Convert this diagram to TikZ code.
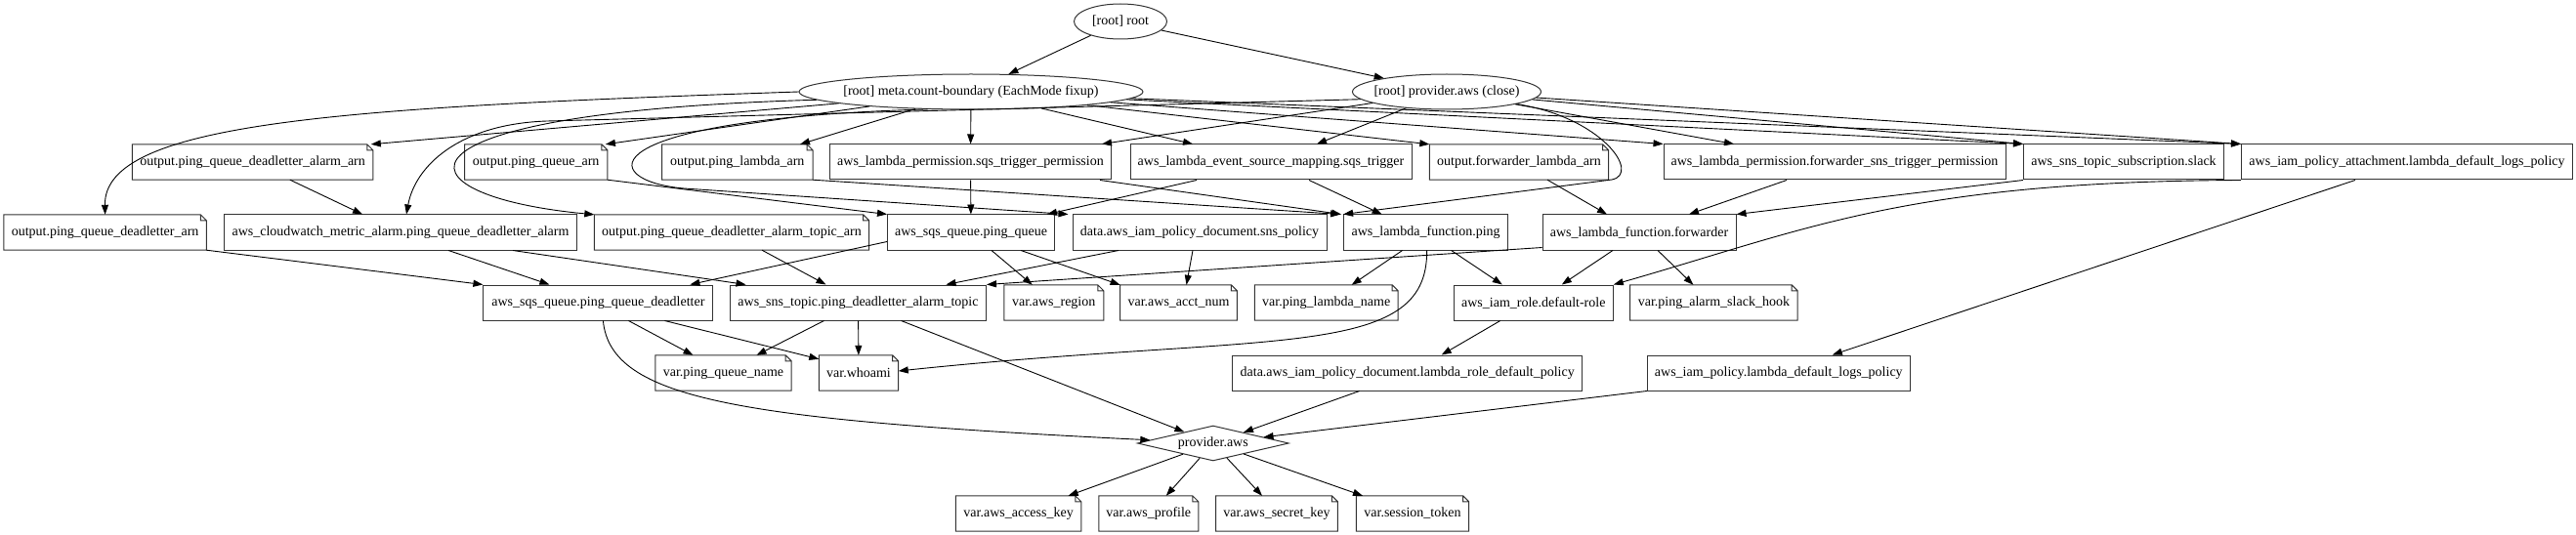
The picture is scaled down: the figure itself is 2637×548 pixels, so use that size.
\documentclass[tikz,border=0pt]{standalone}
\usepackage{fontspec}
\setmainfont{Liberation Serif}
\usetikzlibrary{arrows.meta,shapes.geometric}

\begin{document}
\begin{tikzpicture}[x=1pt, y=1pt, font=\fontsize{14}{16}\selectfont,
  box/.style={draw=black!80, line width=1pt, minimum height=36pt, inner sep=0pt},
  note/.style={minimum height=36pt, inner sep=0pt},
  fold/.style={draw=black!80, line width=1pt},
  ell/.style={ellipse, draw=black!80, line width=1pt, minimum height=36pt, inner sep=0pt},
  dia/.style={diamond, draw=black!80, line width=1pt, aspect=4.3, minimum width=155pt, minimum height=36pt, inner sep=0pt},
  arr/.style={-{Triangle[length=10pt,width=7pt]}, line width=0.9pt}]
\useasboundingbox (0,0) rectangle (2637,-548);
\node[ell, minimum width=95pt] (root) at (1147,-22) {\makebox[0pt]{[root] root}};
\node[ell, minimum width=352pt] (meta) at (994,-94) {\makebox[0pt]{[root] meta.count-boundary (EachMode fixup)}};
\node[ell, minimum width=193pt] (close) at (1481,-94) {\makebox[0pt]{[root] provider.aws (close)}};
\node[note, minimum width=246pt] (oqdaa) at (258.6,-166) {output.ping\_queue\_deadletter\_alarm\_arn};
\node[note, minimum width=146pt] (oqa) at (548.7,-166) {output.ping\_queue\_arn};
\node[note, minimum width=154pt] (ola) at (754.8,-166) {output.ping\_lambda\_arn};
\node[box, minimum width=288pt] (psqs) at (993.5,-166) {aws\_lambda\_permission.sqs\_trigger\_permission};
\node[box, minimum width=288pt] (esm) at (1301,-166) {aws\_lambda\_event\_source\_mapping.sqs\_trigger};
\node[note, minimum width=183pt] (ofla) at (1555,-166) {output.forwarder\_lambda\_arn};
\node[box, minimum width=350pt] (pfwd) at (1878,-166) {aws\_lambda\_permission.forwarder\_sns\_trigger\_permission};
\node[box, minimum width=205pt] (slack) at (2174,-166) {aws\_sns\_topic\_subscription.slack};
\node[box, minimum width=339pt] (attach) at (2464,-166) {aws\_iam\_policy\_attachment.lambda\_default\_logs\_policy};
\node[note, minimum width=207pt] (oqda) at (107.6,-238) {output.ping\_queue\_deadletter\_arn};
\node[box, minimum width=361pt] (alarm) at (410,-238) {aws\_cloudwatch\_metric\_alarm.ping\_queue\_deadletter\_alarm};
\node[note, minimum width=281pt] (oqdata) at (749,-238) {output.ping\_queue\_deadletter\_alarm\_topic\_arn};
\node[box, minimum width=171pt] (queue) at (994,-238) {aws\_sqs\_queue.ping\_queue};
\node[box, minimum width=260pt] (snspol) at (1228,-238) {data.aws\_iam\_policy\_document.sns\_policy};
\node[box, minimum width=168pt] (ping) at (1459.6,-238) {aws\_lambda\_function.ping};
\node[box, minimum width=198pt] (fwd) at (1678,-238) {aws\_lambda\_function.forwarder};
\node[box, minimum width=235pt] (dlq) at (612.4,-310) {aws\_sqs\_queue.ping\_queue\_deadletter};
\node[box, minimum width=262pt] (topic) at (878.5,-310) {aws\_sns\_topic.ping\_deadletter\_alarm\_topic};
\node[note, minimum width=101.5pt] (region) at (1078.8,-310) {var.aws\_region};
\node[note, minimum width=119.4pt] (acct) at (1206.5,-310) {var.aws\_acct\_num};
\node[note, minimum width=146.4pt] (lname) at (1357.7,-310) {var.ping\_lambda\_name};
\node[box, minimum width=163pt] (role) at (1569.8,-310) {aws\_iam\_role.default-role};
\node[note, minimum width=171pt] (hook) at (1754.4,-310) {var.ping\_alarm\_slack\_hook};
\node[note, minimum width=139pt] (qname) at (740.5,-382) {var.ping\_queue\_name};
\node[note, minimum width=81pt] (whoami) at (879,-382) {var.whoami};
\node[box, minimum width=358pt] (rolepol) at (1440.7,-382) {data.aws\_iam\_policy\_document.lambda\_role\_default\_policy};
\node[box, minimum width=269pt] (logpol) at (1820.8,-382) {aws\_iam\_policy.lambda\_default\_logs\_policy};
\node[dia] (prov) at (1241.8,-454) {\makebox[0pt]{provider.aws}};
\node[note, minimum width=128pt] (akey) at (1042.6,-526) {var.aws\_access\_key};
\node[note, minimum width=101.6pt] (prof) at (1175.8,-526) {var.aws\_profile};
\node[note, minimum width=124.5pt] (skey) at (1307,-526) {var.aws\_secret\_key};
\node[note, minimum width=115pt] (stok) at (1446,-526) {var.session\_token};
\foreach \n in {oqdaa,oqa,ola,ofla,oqda,oqdata,region,acct,lname,hook,qname,whoami,akey,prof,skey,stok}
  \draw[fold] (\n.south west) -- (\n.south east) -- ([yshift=-6pt]\n.north east) -- ([xshift=-6pt]\n.north east) -- (\n.north west) -- cycle
    ([xshift=-6pt]\n.north east) |- ([yshift=-6pt]\n.north east);
\draw[arr] (root) -- (meta); \draw[arr] (root) -- (close);
\draw[arr] (meta.west) .. controls (350,-110) and (106,-125) .. (oqda.north);
\draw[arr] (meta) -- ([xshift=-2pt]oqdaa.north east); \draw[arr] (meta) -- ([xshift=-2pt]oqa.north east);
\draw[arr] (meta) -- ([xshift=-13pt]ola.north east); \draw[arr] (meta) -- (psqs);
\draw[arr] (meta) -- ([xshift=-80pt]esm.north); \draw[arr] (meta) -- (ofla.north west);
\draw[arr] (meta) -- (pfwd.north west); \draw[arr] (meta) -- (slack.north west); \draw[arr] (meta) -- (attach.north west);
\draw[arr] (meta.183) .. controls (380,-115) and (400,-200) .. (oqdata.north west);
\draw[arr] (meta.202) .. controls (600,-122) and (610,-185) .. (700,-193) -- ([xshift=-4pt]snspol.north west);
\draw[arr] (close.185) -- (560,-124) .. controls (470,-127) and (425,-170) .. ([xshift=6pt]alarm.north);
\draw[arr] (close) -- ([xshift=-10pt]psqs.north east); \draw[arr] (close) -- ([xshift=47pt]esm.north);
\draw[arr] (close.-10) .. controls (1640,-120) and (1680,-178) .. (1650,-184) -- (ping.north west);
\draw[arr] (close) -- ([xshift=-103pt]pfwd.north); \draw[arr] (close) -- (slack.north west); \draw[arr] (close) -- (attach.north west);
\draw[arr] (oqdaa) -- (alarm); \draw[arr] (oqa.south east) -- (queue.north west);
\draw[arr] (ola.south east) -- ([xshift=-3pt]ping.north west); \draw[arr] (psqs) -- (queue);
\draw[arr] ([xshift=-12pt]psqs.south east) -- ([xshift=-2pt]ping.north west);
\draw[arr] ([xshift=-76pt]esm.south) -- ([xshift=78pt]queue.north); \draw[arr] ([xshift=39pt]esm.south) -- ([xshift=-45pt]ping.north);
\draw[arr] ([xshift=29pt]ofla.south) -- ([xshift=-33pt]fwd.north); \draw[arr] ([xshift=-49pt]pfwd.south) -- ([xshift=51pt]fwd.north);
\draw[arr] (slack.south west) -- (fwd.north east);
\draw[arr] (attach.south west) .. controls (1950,-186) and (1850,-235) .. (role.north east);
\draw[arr] ([xshift=-53pt]attach.south) -- ([xshift=55pt]logpol.north);
\draw[arr] (oqda.south east) -- (dlq.north west);
\draw[arr] ([xshift=49pt]alarm.south) -- ([xshift=-50pt]dlq.north); \draw[arr] ([xshift=115pt]alarm.south) -- ([xshift=-115pt]topic.north);
\draw[arr] ([xshift=31pt]oqdata.south) -- ([xshift=-33pt]topic.north);
\draw[arr] ([yshift=9pt]queue.south west) -- ([xshift=-24pt]dlq.north east);
\draw[arr] ([xshift=21pt]queue.south) -- ([xshift=-22pt]region.north); \draw[arr] ([xshift=51pt]queue.south) -- (acct.north west);
\draw[arr] ([xshift=-83pt]snspol.south) -- ([xshift=90pt]topic.north); \draw[arr] ([xshift=-7pt]snspol.south) -- ([xshift=8pt]acct.north);
\draw[arr] ([xshift=-24pt]ping.south) -- ([xshift=26pt]lname.north);
\draw[arr] ([xshift=1pt]ping.south) .. controls (1462,-370) and (1300,-340) .. ([yshift=2pt]whoami.east);
\draw[arr] ([xshift=26pt]ping.south) -- ([xshift=-32pt]role.north);
\draw[arr] ([xshift=-27pt]fwd.south) -- ([xshift=29pt]role.north); \draw[arr] ([xshift=19pt]fwd.south) -- ([xshift=-21pt]hook.north);
\draw[arr] ([yshift=3pt]fwd.south west) -- (topic.north east);
\draw[arr] ([xshift=31pt]dlq.south) -- ([xshift=-31pt]qname.north); \draw[arr] ([xshift=68pt]dlq.south) -- ([yshift=-4pt]whoami.north west);
\draw[arr] ([xshift=5pt]dlq.south) .. controls (625,-410) and (760,-430) .. (prov);
\draw[arr] ([xshift=-35pt]topic.south) -- ([xshift=34pt]qname.north); \draw[arr] (topic) -- (whoami);
\draw[arr] ([xshift=44pt]topic.south) -- (prov);
\draw[arr] ([xshift=-34pt]role.south) -- ([xshift=35pt]rolepol.north);
\draw[arr] ([xshift=-49pt]rolepol.south) -- (prov); \draw[arr] (logpol.south west) -- (prov);
\draw[arr] (prov) -- ([xshift=51pt]akey.north); \draw[arr] (prov) -- ([xshift=18pt]prof.north);
\draw[arr] (prov) -- ([xshift=-15pt]skey.north); \draw[arr] (prov) -- ([xshift=-51pt]stok.north);
\end{tikzpicture}
\end{document}
